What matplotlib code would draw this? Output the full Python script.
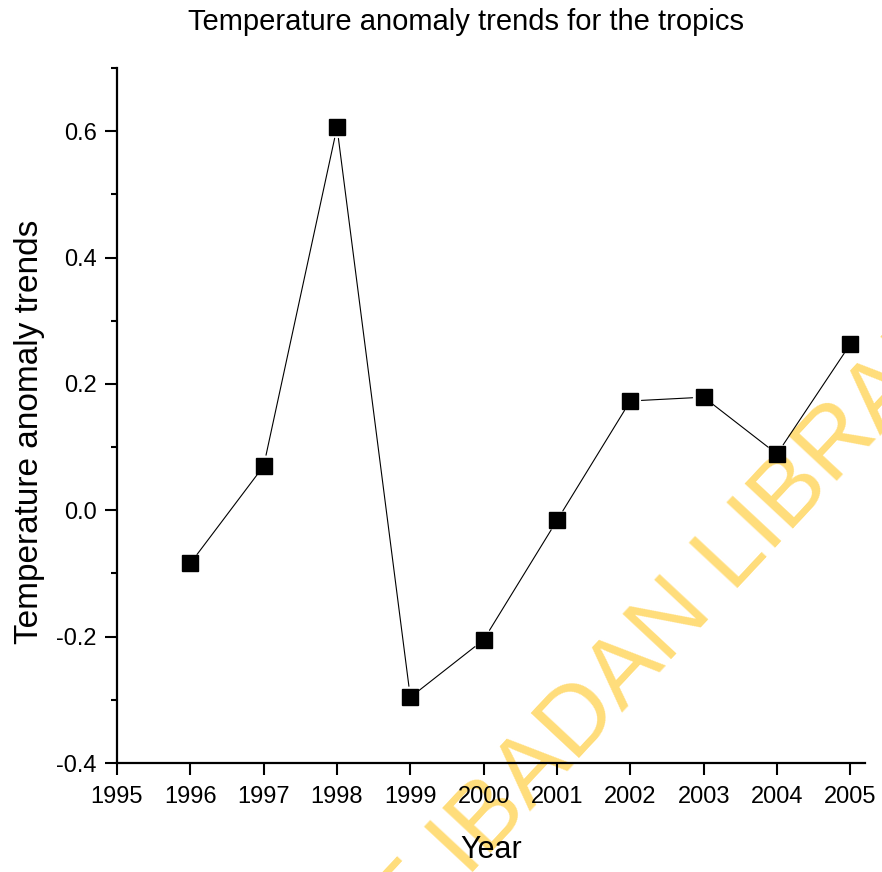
import matplotlib
matplotlib.use("Agg")
import matplotlib.pyplot as plt
from matplotlib.ticker import MultipleLocator

# Temperature anomaly trends (tropics), yearly values
years = [1996, 1997, 1998, 1999, 2000, 2001, 2002, 2003, 2004, 2005]
anomaly = [-0.084, 0.070, 0.606, -0.296, -0.205, -0.016, 0.173, 0.179, 0.089, 0.263]

title = "Temperature anomaly trends for the tropics"
x_label = "Year"
y_label = "Temperature anomaly trends"
watermark = "UNIVERSITY OF IBADAN LIBRARY"

plt.rcParams['font.family'] = ['Liberation Sans', 'DejaVu Sans']

fig = plt.figure(figsize=(8.82, 8.72), dpi=100)
ax = fig.add_axes([117 / 882, 1 - 763 / 872, (865 - 117) / 882, (763 - 68) / 872])
ax.patch.set_alpha(0)

# watermark sits under the axes and all labels
fig.text(0.542, 0.006, watermark, fontsize=70, color='#FFDD7A', rotation=47,
         rotation_mode='anchor', ha='center', va='baseline', zorder=-1)

# line segments stop short of the markers
for i in range(len(years) - 1):
    ax.annotate('', xy=(years[i + 1], anomaly[i + 1]), xytext=(years[i], anomaly[i]),
                arrowprops=dict(arrowstyle='-', color='black', lw=0.8,
                                shrinkA=8, shrinkB=8))
ax.plot(years, anomaly, linestyle='none', marker='s', markersize=11.5,
        color='black', zorder=3)

ax.set_xlim(1995, 2005.2)
ax.set_ylim(-0.4, 0.7)
ax.set_xticks(range(1995, 2006))
ax.set_yticks([-0.4, -0.2, 0.0, 0.2, 0.4, 0.6])
ax.yaxis.set_minor_locator(MultipleLocator(0.1))
ax.set_yticklabels(['-0.4', '-0.2', '0.0', '0.2', '0.4', '0.6'])

for side in ('top', 'right'):
    ax.spines[side].set_visible(False)
for side in ('left', 'bottom'):
    ax.spines[side].set_linewidth(1.6)

ax.tick_params(which='major', direction='out', length=8.5, width=1.5)
ax.tick_params(which='minor', direction='out', length=4.5, width=1.5)
ax.tick_params(axis='x', labelsize=17, pad=8)
ax.tick_params(axis='y', labelsize=17, pad=6)

fig.text(466 / 882, 1 - 22 / 872, title, fontsize=21, ha='center', va='center')
fig.text(491 / 882, 1 - 850 / 872, x_label, fontsize=22, ha='center', va='center')
fig.text(30 / 882, 1 - 432 / 872, y_label, fontsize=24, rotation=90,
         ha='center', va='center')

fig.savefig('out.png', dpi=100)
